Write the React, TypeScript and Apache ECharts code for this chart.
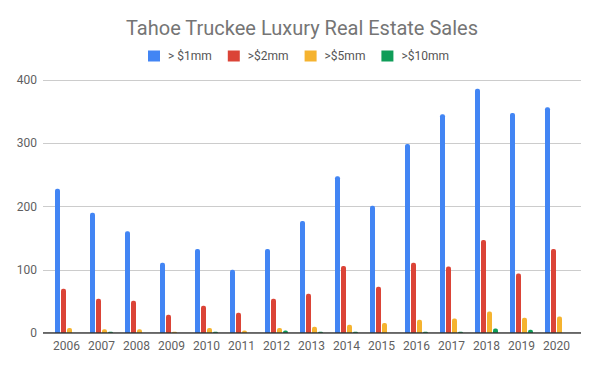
import React, { useEffect, useRef } from "react";
import * as echarts from "echarts";

const years = ["2006","2007","2008","2009","2010","2011","2012","2013","2014","2015","2016","2017","2018","2019","2020"];
const over1mm = [228,190,161,111,133,100,133,177,248,201,299,346,386,348,357];
const over2mm = [70,54,51,29,43,32,54,62,106,73,111,105,147,94,133];
const over5mm = [8,6,6,2,8,4,8,10,13,16,21,23,34,24,26];
const over10mm = [0,2,0,0,2,0,4,2,2,0,2,2,7,5,0];
const seriesNames = ["> $1mm", ">$2mm", ">$5mm", ">$10mm"];
const colors = ["#4285F4", "#DB4437", "#F5B32F", "#0F9D58"];

export default function App() {
  const ref = useRef<HTMLDivElement>(null);
  useEffect(() => {
    if (!ref.current) return;
    const chart = echarts.init(ref.current, undefined, { renderer: "svg" });
    const font = "Roboto";
    const data = [over1mm, over2mm, over5mm, over10mm];
    chart.setOption({
      animation: false,
      textStyle: { fontFamily: font },
      title: {
        text: "Tahoe Truckee Luxury Real Estate Sales",
        left: 121,
        top: 13,
        textStyle: { fontFamily: font, fontSize: 20, fontWeight: "normal", color: "#757575" },
      },
      legend: {
        left: 143,
        top: 45,
        itemWidth: 12,
        itemHeight: 11,
        itemGap: 16,
        icon: "rect",
        textStyle: { fontFamily: font, fontSize: 12, color: "#555", padding: [0, 0, 0, 3] },
        data: seriesNames,
      },
      grid: [
        { left: 43, right: 15, top: 80, bottom: 35 },
        { left: 49, right: 22, top: 80, bottom: 35 },
      ],
      xAxis: [
        { type: "value", gridIndex: 0, show: false, min: 0, max: 1 },
        {
          type: "category",
          gridIndex: 1,
          data: years,
          axisTick: { show: false },
          axisLine: { show: false },
          axisLabel: { fontFamily: font, fontSize: 12, color: "#5f5f5f", margin: 7, interval: 0 },
        },
      ],
      yAxis: [
        {
          type: "value",
          gridIndex: 0,
          min: 0,
          max: 400,
          interval: 100,
          axisLine: { show: false },
          axisTick: { show: false },
          axisLabel: { fontFamily: font, fontSize: 12, color: "#5f5f5f", margin: 6 },
          splitLine: { lineStyle: { color: "#cccccc", width: 1 } },
        },
        {
          type: "value",
          gridIndex: 1,
          min: 0,
          max: 400,
          interval: 100,
          show: false,
          splitLine: { show: false },
        },
      ],
      series: [
        ...data.map((d, i) => ({
          name: seriesNames[i],
          type: "bar",
          xAxisIndex: 1,
          yAxisIndex: 1,
          data: d,
          barWidth: 5,
          barGap: "20%",
          itemStyle: { color: colors[i], borderRadius: [2, 2, 0, 0] },
        })),
        {
          type: "line",
          xAxisIndex: 0,
          yAxisIndex: 0,
          data: [[0, 0], [1, 0]],
          symbol: "none",
          silent: true,
          lineStyle: { color: "#333", width: 1.3 },
          z: 5,
        },
      ],
    });
    return () => chart.dispose();
  }, []);
  return (
    <div
      ref={ref}
      style={{ position: "absolute", left: 0, top: 0, width: 596, height: 368, background: "#fff" }}
    />
  );
}
